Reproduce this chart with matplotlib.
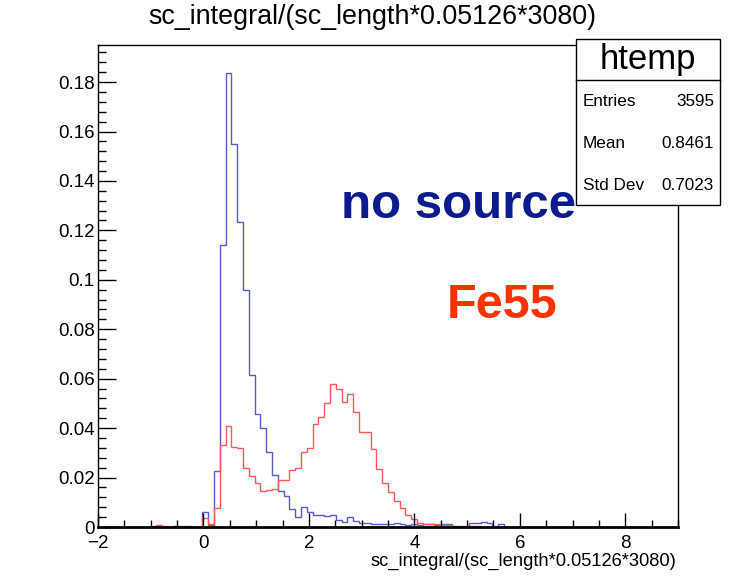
import numpy as np
import matplotlib.pyplot as plt
from matplotlib.patches import Rectangle
from matplotlib.lines import Line2D
from matplotlib.ticker import MultipleLocator

# 100 bins between -2 and 9, normalised contents per bin
x_lo, x_hi, n_bins = -2.0, 9.0, 100

no_source = [
    0, 0, 0, 0, 0, 0, 0, 0, 0, 0,
    0, 0, 0, 0.0006, 0, 0.0005, 0, 0, 0.006, 0.001,
    0.0228, 0.114, 0.1835, 0.155, 0.1234, 0.096, 0.0613, 0.0456, 0.040, 0.0305,
    0.021, 0.0146, 0.0125, 0.0072, 0.0042, 0.008, 0.0062, 0.0049, 0.005, 0.0046,
    0.0048, 0.0028, 0.002, 0.0039, 0.0025, 0.0017, 0.0018, 0.0014, 0.0012, 0.0011,
    0.0012, 0.0018, 0.0011, 0.0007, 0.0013, 0.001, 0.0014, 0.0011, 0.0007, 0.0012,
    0.0012, 0, 0, 0, 0.0017, 0.0017, 0.002, 0.0017, 0, 0.0011,
    0, 0, 0, 0, 0, 0, 0, 0, 0, 0,
    0, 0, 0, 0, 0, 0, 0, 0, 0, 0,
    0, 0, 0, 0, 0, 0, 0, 0, 0, 0,
]

fe55 = [
    0, 0, 0, 0, 0, 0, 0, 0, 0, 0.0006,
    0.0008, 0.0005, 0, 0.0004, 0.0003, 0, 0, 0, 0.0035, 0.0012,
    0.0078, 0.033, 0.0409, 0.0325, 0.0321, 0.0239, 0.0208, 0.018, 0.0146, 0.015,
    0.0153, 0.0192, 0.0192, 0.023, 0.0237, 0.0303, 0.0321, 0.0417, 0.0444, 0.0501,
    0.0578, 0.0558, 0.0505, 0.0539, 0.0465, 0.0384, 0.0385, 0.0315, 0.0235, 0.0177,
    0.0141, 0.0107, 0.0076, 0.0049, 0.0031, 0.0017, 0.0012, 0.0011, 0.0011, 0.0008,
    0.0008, 0.0004, 0.0004, 0.0003, 0.0003, 0.0003, 0.0002, 0, 0, 0,
    0, 0, 0, 0, 0, 0, 0, 0, 0, 0,
    0, 0, 0, 0, 0, 0, 0, 0, 0, 0,
    0, 0, 0, 0, 0, 0, 0, 0, 0, 0,
]

var_name = "sc_integral/(sc_length*0.05126*3080)"
stats_labels = ["Entries", "Mean", "Std Dev"]
stats_values = ["3595", "0.8461", "0.7023"]

W, H = 735, 576
plt.rcParams["font.family"] = ["Liberation Sans", "DejaVu Sans"]

def fx(px):
    return px / W

def fy(py):
    return 1 - py / H

fig = plt.figure(figsize=(W / 100, H / 100), dpi=100)
ax = fig.add_axes([fx(98), fy(527), fx(678) - fx(98), fy(45) - fy(527)])

edges = np.linspace(x_lo, x_hi, n_bins + 1)
ax.stairs(no_source, edges, color="#5c5cc8", lw=1.0)
ax.stairs(fe55, edges, color="#ff5a5a", lw=1.0)

ax.set_xlim(x_lo, x_hi)
ax.set_ylim(0, 0.195)

ax.xaxis.set_major_locator(MultipleLocator(2))
ax.xaxis.set_minor_locator(MultipleLocator(0.5))
ax.yaxis.set_major_locator(MultipleLocator(0.02))
ax.yaxis.set_minor_locator(MultipleLocator(0.004))
ax.yaxis.set_major_formatter(lambda v, pos: f"{v:g}")
ax.xaxis.set_major_formatter(lambda v, pos: f"{v:g}".replace("-", "\u2212"))

ax.tick_params(axis="both", which="both", direction="in", top=False, right=False,
               labelsize=13.5, color="black", width=1)
ax.tick_params(axis="x", which="major", length=10, pad=5.5)
ax.tick_params(axis="x", which="minor", length=5)
ax.tick_params(axis="y", which="major", length=13, pad=2.5)
ax.tick_params(axis="y", which="minor", length=5.8)
for s in ax.spines.values():
    s.set_linewidth(1.0)
ax.spines["bottom"].set_linewidth(2.0)

# title and axis label placed like a ROOT canvas
fig.text(fx(372), fy(24), var_name, ha="center", va="baseline", fontsize=19.4)
fig.text(fx(676), fy(566), var_name, ha="right", va="baseline", fontsize=13.2)

# annotations
fig.text(fx(341), fy(218), "no source", ha="left", va="baseline",
         fontsize=35.5, fontweight="bold", color="#0a1a8f")
fig.text(fx(447), fy(318), "Fe55", ha="left", va="baseline",
         fontsize=35, fontweight="bold", color="#ff3300")

# stats box
bx0, by0, bx1, by1 = 576, 39, 720, 205
box = Rectangle((fx(bx0), fy(by1)), fx(bx1) - fx(bx0), fy(by0) - fy(by1),
                transform=fig.transFigure, facecolor="white", edgecolor="black",
                lw=1.0, zorder=5)
fig.add_artist(box)
fig.add_artist(Line2D([fx(bx0), fx(bx1)], [fy(80), fy(80)], transform=fig.transFigure,
                      color="black", lw=1.0, zorder=6))
fig.text(fx((bx0 + bx1) / 2), fy(60), "htemp", ha="center", va="center",
         fontsize=25, zorder=7)
for row_y, lab, val in zip([102, 143, 185], stats_labels, stats_values):
    fig.text(fx(583), fy(row_y), lab, ha="left", va="center", fontsize=12.3, zorder=7)
    fig.text(fx(714), fy(row_y), val, ha="right", va="center", fontsize=12.3, zorder=7)

fig.savefig("out.png", dpi=100)
